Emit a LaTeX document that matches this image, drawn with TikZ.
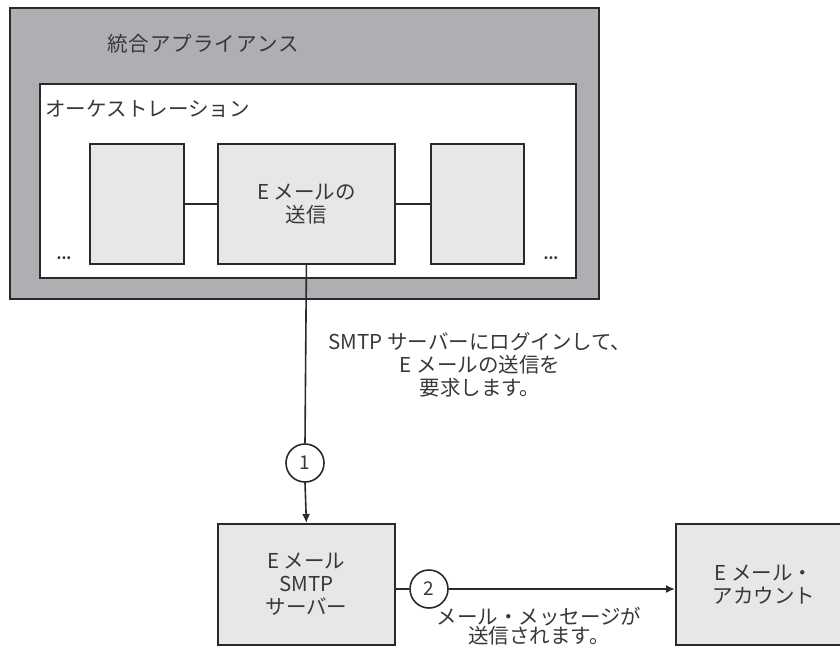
\documentclass[tikz,border=0pt]{standalone}
\usepackage{fontspec}
\setmainfont{Noto Sans CJK JP}
\usetikzlibrary{arrows.meta}
\definecolor{outerg}{HTML}{AEAFB2}
\definecolor{boxg}{HTML}{E6E7E8}
\definecolor{ink}{HTML}{2A2A2A}
\definecolor{txt}{HTML}{383838}
\begin{document}
\begin{tikzpicture}[x=1pt,y=-1pt,
  frame/.style={draw=ink, line width=1.8pt, anchor=north west, inner sep=0pt},
  gbox/.style={frame, fill=boxg, minimum height=120pt},
  num/.style={circle, draw=ink, line width=1.6pt, fill=white, minimum size=38pt, inner sep=0pt, font=\fontsize{19}{20}\selectfont, text=txt},
  lbl/.style={text=txt, font=\fontsize{20.5}{23}\selectfont, align=center, inner sep=0pt},
  dots/.style={text=txt, font=\bfseries\fontsize{14}{14}\selectfont, inner sep=0pt},
  conn/.style={draw=ink, line width=1.6pt},
  tip/.style={-{Latex[length=9pt,width=8pt]}}
]
\useasboundingbox (0,0) rectangle (840,646);
\fill[white] (0,0) rectangle (840,646);
% containers
\node (outer) [frame, fill=outerg, minimum width=589pt, minimum height=291pt] at (9,7) {};
\node (inner) [frame, fill=white, minimum width=536pt, minimum height=194pt] at (39,83) {};
\node (title) [lbl, anchor=west, font=\fontsize{20.5}{23}\selectfont\addfontfeatures{LetterSpace=5}] at (107,44) {統合アプライアンス};
\node (orch) [lbl, anchor=west] at (45,109) {オーケストレーション};
% activity boxes
\node (lbox) [gbox, minimum width=94pt] at (89,143) {};
\node (mbox) [gbox, minimum width=177pt] at (217,143) {};
\node (rbox) [gbox, minimum width=93pt] at (430,143) {};
\node (mtext) [lbl] at (mbox.center) {E メールの\\送信};
\node (ldots) [dots] at (64,258) {...};
\node (rdots) [dots] at (551,258) {...};
\draw[conn] (lbox.east) -- (mbox.west);
\draw[conn] (mbox.east) -- (rbox.west);
% lower part
\node (c1) [num] at (305,463) {1};
\node (smtp) [gbox, minimum width=177pt, minimum height=121pt] at (217,523) {};
\node (smtptext) [lbl] at (smtp.center) {E メール\\SMTP\\サーバー};
\node (acct) [gbox, minimum width=176pt, minimum height=121pt] at (675,523) {};
\node (accttext) [lbl] at (acct.center) {E メール・\\アカウント};
\node (c2) [num] at (429,589) {2};
\draw[conn] (mbox.south) -- (c1.north);
\draw[conn, tip] (c1.south) -- (smtp.north);
\draw[conn] (smtp.east |- c2.west) -- (c2.west);
\draw[conn, tip] (c2.east) -- (acct.west |- c2.east);
\node (lab1) [lbl] at (480,365) {SMTP サーバーにログインして、\\E メールの送信を\\要求します。};
\node (lab2) [lbl, font=\fontsize{20.5}{19}\selectfont] at (539,626) {メール・メッセージが\\送信されます。};
\end{tikzpicture}
\end{document}
